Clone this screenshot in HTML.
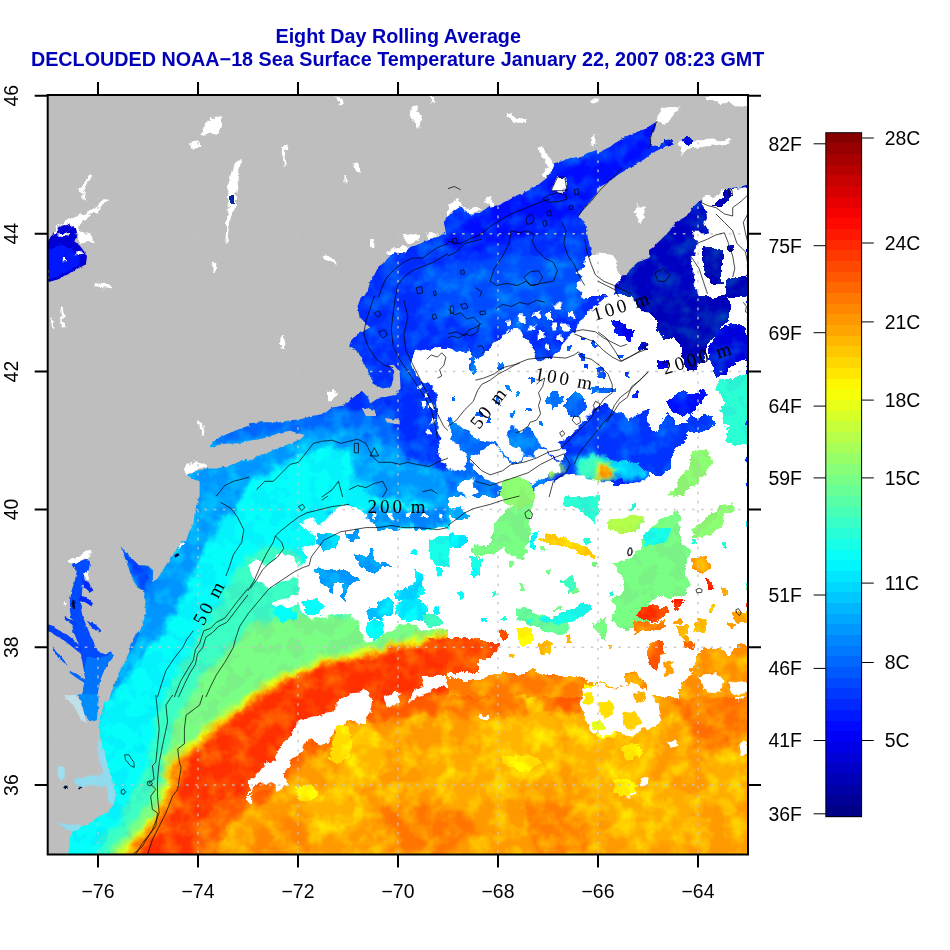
<!DOCTYPE html>
<html lang="en"><head><meta charset="utf-8"><title>Eight Day Rolling Average - DECLOUDED NOAA-18 Sea Surface Temperature</title>
<style>html,body{margin:0;padding:0;background:#fff;}body{width:950px;height:950px;overflow:hidden;font-family:"Liberation Sans",sans-serif;}svg{display:block;position:absolute;left:0;top:0;}.t{font-family:"Liberation Sans",sans-serif;font-weight:bold;font-size:19.75px;fill:#0000b8;text-anchor:middle;}.l{font-family:"Liberation Sans",sans-serif;font-size:19.4px;fill:#000;}.c{font-family:"Liberation Serif",serif;font-size:19px;letter-spacing:3px;word-spacing:-2px;fill:#000;text-anchor:middle;}</style></head><body>
<svg width="950" height="950" viewBox="0 0 950 950">
<rect width="950" height="950" fill="#fff"/>
<defs><clipPath id="pc"><rect x="47.7" y="95.0" width="700.3" height="759.5"/></clipPath>
</defs>
<g clip-path="url(#pc)">
<rect x="40" y="90" width="720" height="780" fill="#bebebe"/>
<defs><filter id="b3" x="-5%" y="-5%" width="110%" height="110%" color-interpolation-filters="sRGB"><feGaussianBlur stdDeviation="2.6" result="b"/><feTurbulence type="fractalNoise" baseFrequency="0.07" numOctaves="3" seed="7"/><feColorMatrix type="matrix" values="1 0 0 0 0 0 1 0 0 0 0 0 1 0 0 0 0 0 0 1" result="n"/><feDisplacementMap in="b" in2="n" scale="14" xChannelSelector="R" yChannelSelector="G"/><feColorMatrix type="matrix" values="1 0 0 0 0 0 1 0 0 -0.05 0 0 1 0 0 0 0 0 1 0" result="d"/><feTurbulence type="fractalNoise" baseFrequency="0.055" numOctaves="3" seed="11"/><feColorMatrix type="matrix" values="0 0 0 0 0 0 0.55 0 0 -0.225 0 0 0 0 0 0 0 0 0 1" result="g"/><feComposite in="d" in2="g" operator="arithmetic" k1="0" k2="1" k3="1" k4="0"/></filter><filter id="dc" x="-5%" y="-5%" width="110%" height="110%"><feTurbulence type="fractalNoise" baseFrequency="0.11" numOctaves="3" seed="3"/><feColorMatrix type="matrix" values="1 0 0 0 0 0 1 0 0 0 0 0 1 0 0 0 0 0 0 1" result="n"/><feDisplacementMap in="SourceGraphic" in2="n" scale="9" xChannelSelector="R" yChannelSelector="G"/></filter><filter id="dp" x="-5%" y="-5%" width="110%" height="110%" color-interpolation-filters="sRGB"><feTurbulence type="fractalNoise" baseFrequency="0.11" numOctaves="3" seed="3"/><feColorMatrix type="matrix" values="1 0 0 0 0 0 1 0 0 0 0 0 1 0 0 0 0 0 0 1" result="n"/><feDisplacementMap in="SourceGraphic" in2="n" scale="9" xChannelSelector="R" yChannelSelector="G"/><feColorMatrix type="matrix" values="1 0 0 0 0 0 1 0 0 -0.05 0 0 1 0 0 0 0 0 1 0" result="d"/><feTurbulence type="fractalNoise" baseFrequency="0.055" numOctaves="3" seed="11"/><feColorMatrix type="matrix" values="0 0 0 0 0 0 0.55 0 0 -0.225 0 0 0 0 0 0 0 0 0 1" result="g"/><feComposite in="g" in2="d" operator="in" result="gm"/><feComposite in="d" in2="gm" operator="arithmetic" k1="0" k2="1" k3="1" k4="0"/></filter><filter id="dl" x="-5%" y="-5%" width="110%" height="110%"><feTurbulence type="fractalNoise" baseFrequency="0.2" numOctaves="2" seed="5"/><feColorMatrix type="matrix" values="1 0 0 0 0 0 1 0 0 0 0 0 1 0 0 0 0 0 0 1" result="n"/><feDisplacementMap in="SourceGraphic" in2="n" scale="3" xChannelSelector="R" yChannelSelector="G"/></filter></defs>
<g filter="url(#b3)">
<rect x="20" y="60" width="760" height="830" fill="#0038ff"/>
<path fill="#0000c2" d="M612 285L640 250L670 225L700 200L760 170L760 375L700 380L685 365L665 335L640 320L625 300Z"/>
<path fill="#0019ff" d="M440 240L500 200L560 170L620 140L660 110L670 130L600 190L560 225L520 240L470 250Z"/>
<path fill="#0057ff" d="M430 270L520 255L580 262L590 300L540 330L470 330L420 300Z"/>
<path fill="#0073ff" d="M180 400L250 418L300 414L345 408L370 412L395 420L400 450L400 470L430 480L470 500L520 520L760 520L760 870L140 870L140 720L40 720L40 480Z"/>
<path fill="#00a2ff" d="M190 440L250 440L300 430L340 430L375 440L398 452L420 462L445 472L470 490L520 505L760 520L760 870L140 870L140 720L40 720L40 480Z"/>
<path fill="#04fffb" d="M236 505L250 484L276 470L300 455L330 446L350 455L354 480L372 496L410 503L450 513L500 520L760 520L760 870L40 870L40 730L90 725L100 712L114 692L138 662L163 632L181 602L194 572L208 545L222 520Z"/>
<path fill="#3bffc4" d="M240 565L265 545L300 555L330 590L400 590L760 590L760 870L88 870L95 852L118 822L146 768L160 702L190 652L215 607.5Z"/>
<path fill="#7aff85" d="M248 627L290 613L340 617L400 611L450 596L760 590L760 870L102 870L108 852L132 824L158 784L175 722L205 672Z"/>
<path fill="#c8ff37" d="M113 870L117 851L129 838L143 827L153 815L161 799L163 785L163 770L170 756L182 749L192 740L203 728L213 721.5L224 713.5L234 705.5L246 697L267 682L288 671L309 662L330 656L351 652L372 648L393 643L414 637L435 630.5L448 628.5L480 630L520 634L560 630L600 619L640 602L680 594L760 589L760 870Z"/>
<path fill="#ffd500" d="M125 870L126 852L134 841L145 830L155 818L164 800L166 785L166 771L172 758L184 752L194 743L205 731L215 724.5L226 716.5L236 711L247 700L268 685L289 674L310 665L331 659L352 655L373 651L394 646L415 640L436 633.5L448 631.5L480 633L520 637L560 633L600 622L640 605L680 597L760 592L760 870Z"/>
<path fill="#ff7b00" d="M128 870L129 853L137 844L148 833L158 822L168 802L170 786L170 772L176 761L187 755L197 747L208 734L218 728.5L229 720.5L239 714L249 704L270 689L291 678L312 669L333 663L354 659L375 655L396 650L417 644L438 637.5L448 635.5L480 637L520 641L560 637L600 626L640 609L680 601L760 596L760 870Z"/>
<path fill="#ff3c00" d="M136 870L140 853L150 840L165 825L176 808L181 790L182 776L186 765L195 757L203 749L212 738.5L220 729.5L230 721.5L239 715L249 705L270 690L291 679L312 670L333 664L354 660L375 656L396 651L417 645L438 638.5L448 636.5L480 638L520 642L560 638L600 627L640 610L680 602L760 597L760 870Z"/>
<path fill="#ff6700" d="M185 870L200 823L215 802L248 793L269 775L290 754L311 737L332 725L353 720L374 706L395 701L416 695L448 690L490 690L575 690L600 680L650 670L760 660L760 870Z"/>
<path fill="#ffa600" d="M215 870L225 830L245 812L270 795L290 775L311 757L332 745L353 738L374 726L395 721L416 715L448 712L490 712L575 712L600 700L650 690L760 680L760 870Z"/>
<path fill="#ffbd00" d="M300 800L340 790L370 805L360 830L320 835Z"/>
<path fill="#ffc100" d="M480 700L530 690L560 720L555 760L520 790L480 770Z"/>
<path fill="#ffbd00" d="M560 720L620 700L660 720L650 780L600 800L570 770Z"/>
<path fill="#ffc100" d="M330 730L370 720L390 750L370 790L340 780Z"/>
<path fill="#ffb900" d="M600 790L660 780L700 800L690 840L640 850L610 830Z"/>
<path fill="#ffb500" d="M420 760L470 750L500 780L480 810L430 800Z"/>
<path fill="#ff8200" d="M380 810L450 800L480 830L440 855L390 850Z"/>
<path fill="#ff8a00" d="M520 800L580 810L590 850L540 860Z"/>
<path fill="#ff7b00" d="M670 700L748 690L748 740L700 750Z"/>
<path fill="#ff9200" d="M260 820L300 815L310 855L250 860Z"/>
<path fill="#ffb900" d="M700 760L748 750L748 800L710 810Z"/>
<path fill="#ff8200" d="M450 700L520 695L530 715L460 720Z"/>
<path fill="#0073ff" d="M448 413.9L542.7 413.9L546.9 443.4L542.7 497.1L448 497.1Z"/>
<path fill="#0040ff" d="M561.7 413.9L649.1 405.5L649.1 456L574.3 458.1Z"/>
<path fill="#00c9ff" d="M574.3 458.1L649.1 453.9L649.1 479.2L578.5 477.1Z"/>
<path fill="#3fffc0" d="M576.4 462.3L591.2 457.1L608 460.2L616.4 470.7L612.2 480.2L595.4 480.2L582.7 476Z"/>
<path fill="#efff10" d="M595.4 464.4L612.2 464.4L613.3 478.1L596.4 478.1Z"/>
<path fill="#ff8600" d="M600 466.9L609.7 466.9L609.7 476.6L600 476.6Z"/>
<path fill="#a1ff5e" d="M504.8 481.3L523.8 479.2L528 497.1L502.7 497.1ZM546.9 464.4L559.6 462.3L561.7 474.9L549.1 477.1Z"/>
<path fill="#0000ba" d="M633.3 296L649.1 296L649.1 310.7L637.5 308.6Z"/>
<path fill="#0048ff" d="M118.7 543.4L128.8 553.5L135.6 560.2L147.4 563.6L155.8 570.3L152.4 582.1L144 592.2L137.3 590.5L130.5 577.1L123.8 560.2Z"/>
<path fill="#008eff" d="M155.8 570.3L165.9 573.7L159.2 590.5L149.1 604L144 592.2L152.4 582.1ZM328 510.7L449.1 508.6L449.1 525.5L336.4 527.6Z"/>
</g>
<g filter="url(#dl)">
<path fill="#bebebe" d="M246.9 294.9L361.7 294.9L357.5 306.5L359.6 317.1L365.9 323.4L370.1 327.6L357.5 333.9L351.2 340.2L349.1 346.5L357.5 350.7L361.7 359.2L365.9 367.6L370.1 376L374.3 384.4L382.7 388.6L391.2 386.5L393.3 380.2L393.3 369.7L389.1 365.5L393.3 364.4L399.6 371.8L400.6 388.6L395.4 394.9L384.8 397.1L376.4 399.2L370.1 403.4L368 397.1L361.7 390.7L351.2 399.2L342.7 405.5L332.2 407.6L323.8 413.9L311.2 416L300.6 419.2L290.1 420.2L279.6 422.3L269.1 422.3L258.5 422.3L246.9 423.4ZM246.9 441.3L258.5 439.2L269.1 437.1L279.6 432.8L290.1 430.7L296.4 432.8L304.8 434.9L300.6 439.2L290.1 443.4L279.6 447.6L269.1 451.8L258.5 456L246.9 461.3ZM361.7 407.6L374.3 409.7L376.4 416L365.9 416ZM384.8 418.1L399.6 420.2L399.6 424.4L386.9 422.3ZM246.9 94.9L449.1 94.9L449.1 216L448 216L443.8 222.3L445.9 232.8L437.5 237.1L429.1 239.2L420.6 243.4L410.1 247.6L403.8 251.8L395.4 251.8L389.1 256L384.8 262.3L378.5 266.5L374.3 274.9L370.1 281.3L368 289.7L363.8 297.1L246.9 297.1ZM446.9 94.9L649.1 94.9L649.1 127.6L637.5 131.8L626.9 136L616.4 142.3L608 146.5L597.5 149.7L589.1 152.8L578.5 157.1L570.1 158.1L561.7 161.3L553.3 163.4L551.2 169.7L546.9 178.1L538.5 184.4L528 190.7L517.5 194.9L506.9 201.3L498.5 205.5L490.1 205.5L481.7 211.8L471.2 213.9L460.6 205.5L454.3 209.7L446.9 218.1ZM649.1 258.1L637.5 262.3L626.9 272.8L620.6 279.2L612.2 274.9L599.6 264.4L592.2 256L589.1 243.4L586.9 232.8L584.8 222.3L578.5 216L586.9 205.5L595.4 194.9L605.9 186.5L616.4 178.1L626.9 169.7L637.5 163.4L649.1 157.1ZM46.9 294.9L249.1 294.9L249.1 425.5L237.5 429.7L226.9 433.9L216.4 439.2L210.1 445.5L210.1 447.6L216.4 445.5L226.9 443.4L237.5 443.4L249.1 441.3L249.1 458.1L237.5 462.3L226.9 466.5L216.4 468.6L205.9 468.6L195.4 470.7L186.9 474.9L193.3 479.2L199.6 481.3L199.6 497.1L46.9 497.1ZM46.9 494.9L199.6 494.9L195.4 508.6L193.3 523.4L189.1 531.8L185.9 541.3L46.9 541.3ZM47.2 539.2L182.7 539.2L176 550.1L169.3 560.2L162.5 570.3L157.5 578.7L152.4 582.1L153.3 570.3L147.4 565.3L138.9 565.3L132.2 558.5L127.2 553.5L120.4 545.9L123.8 555.2L127.2 563.6L130.5 573.7L133.9 582.1L138.9 588.8L144 590.5L144.8 598.9L145.7 610.7L144 619.2L140.6 629.3L135.6 641.1L130.5 649.5L127.2 656.2L123.8 664.6L118.7 673.1L115.4 681.5L112 689.9L108.6 700.8L47.2 700.8ZM47.2 694.2L105.3 694.2L103.6 705.1L98.5 723.6L100.2 737.1L103.6 748.9L106.9 762.4L110.3 774.2L113.7 785.9L115.4 796.1L113.7 804.5L106.9 812.9L98.5 816.3L90.1 823L81.7 826.4L73.3 829.7L69.9 838.2L68.2 855.8L47.2 855.8ZM46.9 94.9L249.1 94.9L249.1 297.1L46.9 297.1ZM596.9 94.9L747.9 94.9L747.9 184.4L741.2 186.5L728.5 188.6L724.3 194.9L715.9 199.2L707.5 203.4L701.2 200.2L699.1 201.3L692.7 207.6L686.4 216L675.9 222.3L669.6 230.7L661.2 239.2L652.7 247.6L640.1 256L629.6 264.4L619.1 274.9L614.8 268.6L608.5 260.2L598 251.8L596.9 251.8L596.9 188.6L608.5 182.3L619.1 173.9L633.8 165.5L644.3 159.2L652.7 152.8L661.2 148.6L669.6 146.5L672.7 143.4L669.6 139.2L663.3 141.3L659.1 146.5L650.6 144.4L650.6 138.1L654.8 129.7L656.9 121.3L650.6 125.5L640.1 129.7L631.7 133.9L621.2 138.1L610.6 146.5L598 152.8L596.9 152.8Z"/>
</g>
<g filter="url(#dl)">
<path fill="#004cff" d="M71.6 563.6L78.3 561.9L86.7 558.5L90.1 561.9L88.4 572L85.1 578.7L82.5 587.2L81.7 597.3L80.8 607.4L82.5 615.8L85.9 624.2L90.1 634.3L94.3 644.4L98.5 651.2L105.3 654.5L112 651.2L113.7 656.2L108.6 662.9L103.6 671.4L100.2 679.8L98.5 688.2L96.8 700.8L81.7 700.8L83.4 688.2L85.1 678.1L83.4 668L81.7 657.9L80 647.8L76.6 639.4L73.3 630.9L71.6 620.8L69.9 610.7L69.9 600.6L71.6 590.5L74.9 580.4L76.6 572Z"/>
<path fill="#0073ff" d="M86.7 657.9L98.5 657.9L105.3 656.2L112 652L113.7 656.2L108.6 662.9L103.6 671.4L100.2 679.8L98.5 688.2L96.8 700.8L81.7 700.8L83.4 688.2L85.1 678.1L84.2 668Z"/>
<path fill="#0040ff" d="M48 624.2L53.1 625.9L58.1 630.9L66.5 634.3L73.3 639.4L81.7 647.8L81.7 654.5L73.3 647.8L64.8 641.1L56.4 636L48 630.9ZM64.8 615.8L69.9 619.2L76.6 624.2L78.3 627.6L71.6 624.2L64.8 619.2Z"/>
<path fill="#0054ff" d="M53.1 647.8L58.1 652.8L64.8 661.3L66.5 664.6L59.8 659.6L53.1 651.2Z"/>
<path fill="#0067ff" d="M69.9 669.7L78.3 674.7L85.1 679.8L85.1 683.2L76.6 678.1L69.9 673.1Z"/>
<path fill="#007bff" d="M128.8 647.8L135.6 634.3L138.9 630.9L139.8 634.3L135.6 642.7L130.5 652.8Z"/>
<path fill="#002cff" d="M81.7 578.7L88.4 582.1L93.5 590.5L90.1 592.2L84.2 587.2ZM79.2 595.6L86.7 597.3L93.5 604L91.8 606.5L85.1 602.3L78.3 600.6Z"/>
<path fill="#0040ff" d="M86.7 620.8L95.2 624.2L101.9 630.9L98.5 632.6L91.8 627.6Z"/>
<path fill="#000030" d="M72.4 600.6L74.6 600.6L74.9 609.1L72.8 609.1Z"/>
<path fill="#000040" d="M174.3 555.2L178.5 552.6L179.4 555.2L175.2 557.7Z"/>
<path fill="#008eff" d="M78.3 694.2L98.5 694.2L98.5 705.1L96.8 720.3L90.1 721.9L85.1 715.2L81.7 705.1Z"/>
<path fill="#bfe0e8" d="M64.8 695L76.6 695L80 701.7L83.4 711.8L86.7 723.6L81.7 720.3L73.3 705.1L64.8 698.4Z"/>
<path fill="#8fdcf0" d="M73.3 779.2L90.1 775.8L103.6 774.2L110.3 782.6L103.6 787.6L90.1 785.9L78.3 787.6ZM98.5 737.1L103.6 748.9L106.9 762.4L110.3 774.2L113.7 785.9L115.4 796.1L113.7 804.5L108.6 802.8L106.9 789.3L103.6 775.8L100.2 762.4L96.8 748.9ZM58.1 823L69.9 824.7L81.7 824.7L78.3 829.7L71.6 831.4L64.8 828.1Z"/>
<path fill="#9fe0f0" d="M58.1 765.7L64.8 767.4L64.8 774.2L61.5 782.6L58.1 775.8Z"/>
<path fill="#001030" d="M64 785.9L68.2 785.1L69.1 788.5L64.8 789.3ZM78.3 786.8L80.8 786.8L80.8 789.3L78.3 789.3Z"/>
<path fill="#0000d5" d="M48 241.3L52.2 233.9L57.5 230.7L60.6 225.5L69.1 223.4L76.4 227.6L77.5 234.9L74.3 241.3L79.6 245.5L83.8 250.7L86.9 257.1L85.9 264.4L81.7 266.5L73.3 270.7L66.9 274.9L58.5 279.2L48 282.3Z"/>
<path fill="#0019ff" d="M48 249.7L60.6 244.4L71.2 248.6L79.6 257.1L79.6 264.4L69.1 270.7L56.4 277.1L48 279.6Z"/>
</g>
<g filter="url(#dc)">
<path fill="#ffffff" d="M414.3 352.8L422.7 348.6L431.2 351.8L439.6 348.6L449.1 350.7L449.1 443.4L441.7 443.4L437.5 430.7L438.5 413.9L436.4 397.1L433.3 386.5L426.9 384.4L422.7 380.2L416.4 373.9L412.2 363.4ZM437.5 441.3L449.1 439.2L449.1 464.4L439.6 462.3ZM416.2 384.2L420.8 384.2L420.8 388.8L416.2 388.8ZM424.6 392.6L429.3 392.6L429.3 397.3L424.6 397.3ZM420.4 401.1L425.1 401.1L425.1 405.7L420.4 405.7ZM428.8 405.3L433.5 405.3L433.5 409.9L428.8 409.9ZM430.9 420L435.6 420L435.6 424.6L430.9 424.6ZM426.7 430.5L431.4 430.5L431.4 435.2L426.7 435.2ZM281.7 336L284.8 336L283.8 348.6L280.6 350.7ZM328 392.8L336.4 390.7L332.2 401.3L328 401.3ZM300.6 523.4L311.2 517.1L321.7 525.5L336.4 508.6L346.9 504.4L357.5 508.6L365.9 517.1L378.5 523.4L395.4 527.6L416.4 527.6L433.3 529.7L449.1 527.6L449.1 630.7L437.5 628.6L429.1 630.7L416.4 626.5L403.8 622.3L395.4 626.5L386.9 632.8L374.3 641.3L365.9 643.4L361.7 630.7L357.5 620.2L349.1 616L336.4 613.9L328 618.1L319.6 616L311.2 618.1L302.7 613.9L298.5 605.5L290.1 607.6L275.4 605.5L273.3 601.3L281.7 599.2L296.4 597.1L300.6 586.5L296.4 578.1L283.8 580.2L273.3 586.5L262.7 584.4L252.2 576L248 565.5L254.3 559.2L266.9 565.5L275.4 557.1L281.7 550.7L294.3 559.2L302.7 565.5L306.9 559.2L300.6 550.7L311.2 544.4L317.5 538.1L309.1 531.8ZM248 781.3L256.4 774.9L260.6 766.5L273.3 760.2L281.7 745.5L290.1 739.2L296.4 724.4L306.9 718.1L317.5 716L332.2 713.9L338.5 703.4L342.7 694.9L353.3 692.8L365.9 688.6L372.2 699.2L370.1 711.8L365.9 722.3L357.5 724.4L346.9 720.2L342.7 728.6L332.2 730.7L328 741.3L319.6 745.5L311.2 739.2L302.7 745.5L296.4 758.1L288 764.4L283.8 774.9L288 787.6L279.6 789.7L269.1 781.3L260.6 783.4L252.2 787.6L248 793.9ZM384.8 697.1L395.4 692.8L403.8 694.9L395.4 703.4L386.9 707.6ZM410.1 697.1L416.4 688.6L424.8 684.4L420.6 676L449.1 676L448 688.6L437.5 686.5L429.1 692.8L416.4 697.1L408 703.4ZM248 793.9L252.2 793.9L252.2 802.3L248 802.3ZM283.2 146.5L286.9 145.5L285.5 157.1L286.9 167.6L284.2 165.5L282.7 157.1ZM412.2 105.5L416.4 104.4L418.5 112.8L421.7 117.1L420.6 127.6L415.4 127.6L414.3 119.2L409.1 113.9ZM336.4 96L340.6 97.1L341.7 105.5L338.5 104.4ZM353.3 163.4L358.5 162.3L359.6 173.9L355.8 172.8ZM344.4 177.1L346.9 177.1L346.5 182.3L344.4 182.3ZM324.8 256L330.1 254.9L336.4 260.2L336.4 265.5L331.2 262.3L325.9 259.2ZM368.4 239.2L374.3 239.2L374.3 245.9L371.2 245.9ZM430.7 96L433.7 96L434.3 103.4L431.6 104.4ZM385.9 252.8L393.3 246.5L401.7 245.9L408 248.6L403.8 252.2L395.4 251.8L389.1 257.1ZM403.8 236L414.3 232.8L420.6 234.9L416.4 242.3L408 243.4ZM426.9 234.9L435.4 232.8L437.5 237.1L429.1 239.2ZM448 348.6L458.5 352.8L469.1 348.6L471.2 357.1L479.6 359.2L485.9 350.7L496.4 342.3L502.7 336L509.1 331.8L517.5 327.6L521.7 338.1L528 340.2L532.2 350.7L538.5 359.2L546.9 359.2L557.5 352.8L561.7 344.4L565.9 338.1L574.3 331.8L578.5 323.4L584.8 317.1L591.2 308.6L599.6 302.3L608 296L633.3 296L637.5 308.6L649.1 310.7L649.1 409.7L637.5 413.9L629.1 420.2L622.7 413.9L612.2 409.7L603.8 403.4L595.4 407.6L591.2 413.9L582.7 422.3L574.3 430.7L565.9 439.2L557.5 443.4L565.9 451.8L561.7 460.2L553.3 456L546.9 447.6L538.5 443.4L532.2 432.8L528 426.5L519.6 430.7L511.2 426.5L506.9 432.8L509.1 443.4L517.5 447.6L523.8 456L517.5 462.3L509.1 460.2L502.7 451.8L496.4 443.4L488 439.2L477.5 439.2L469.1 432.8L460.6 426.5L454.3 420.2L448 416ZM448 441.3L458.5 443.4L466.9 451.8L469.1 462.3L462.7 470.7L454.3 470.7L448 466.5ZM471.2 456L481.7 451.8L490.1 443.4L498.5 447.6L502.7 456L511.2 464.4L517.5 464.4L523.8 458.1L532.2 456L540.6 447.6L546.9 449.7L553.3 458.1L561.7 462.3L557.5 470.7L546.9 477.1L536.4 481.3L525.9 485.5L517.5 479.2L509.1 481.3L500.6 485.5L490.1 481.3L479.6 477.1L473.3 468.6ZM565.9 474.9L582.7 477.1L595.4 481.3L612.2 481.3L622.7 485.5L649.1 479.2L649.1 497.1L532.2 497.1L536.4 485.5L553.3 481.3ZM610.1 432.8L626.9 430.7L631.2 443.4L626.9 456L614.3 456L608 443.4ZM460.6 481.3L473.3 479.2L477.5 489.7L469.1 497.1L458.5 491.8ZM534.5 310.9L540.4 310.9L540.4 316.8L534.5 316.8ZM505.1 319.4L510.9 319.4L510.9 325.3L505.1 325.3ZM538.7 332L544.6 332L544.6 337.9L538.7 337.9ZM551.4 322.5L557.3 322.5L557.3 328.4L551.4 328.4ZM556.6 336.2L562.5 336.2L562.5 342.1L556.6 342.1ZM545.1 344.6L550.9 344.6L550.9 350.5L545.1 350.5ZM568.2 310.9L574.1 310.9L574.1 316.8L568.2 316.8ZM518.7 316.2L524.6 316.2L524.6 322.1L518.7 322.1ZM529.3 324.6L535.2 324.6L535.2 330.5L529.3 330.5ZM546.1 314.1L552 314.1L552 320L546.1 320ZM562.9 324.6L568.8 324.6L568.8 330.5L562.9 330.5ZM554.5 303.6L560.4 303.6L560.4 309.5L554.5 309.5ZM448 496L649.1 496L649.1 697.1L448 697.1ZM582.7 694.9L595.4 690.7L603.8 699.2L599.6 713.9L603.8 726.5L595.4 734.9L589.1 726.5L584.8 713.9ZM448 676L490.1 676L485.9 686.5L473.3 684.4L460.6 682.3L448 684.4ZM629.1 676L649.1 676L649.1 718.1L641.7 722.3L637.5 709.7L633.3 697.1ZM622.7 789.7L633.3 787.6L637.5 796L626.9 798.1ZM479.6 713.9L488 713.9L488 720.2L479.6 720.2ZM551.2 190.7L557.5 177.1L564.8 177.1L566.9 190.7ZM584.8 260.2L593.3 253.9L599.6 252.8L605.9 258.1L612.2 264.4L618.5 271.8L620.6 279.2L614.3 285.5L616.4 297.1L582.7 297.1L578.5 285.5L582.7 277.1L576.4 270.7L582.7 266.5ZM448 205.5L456.4 199.2L460.6 205.5L469.1 209.7L475.4 205.5L481.7 210.7L471.2 214.9L460.6 206.5L454.3 210.7L448 218.1ZM506.9 114.9L511.2 112.8L517.5 119.2L525.9 119.2L524.8 123.4L515.4 122.3ZM483.8 199.2L490.1 197.1L496.4 205.5L490.1 206.5ZM538.5 148.6L542.7 147.6L553.3 163.4L551.2 169.7L546.9 178.1L542.7 173.9L546.9 165.5L542.7 159.2ZM589.1 138.1L595.4 136L595.4 144.4L591.2 146.5ZM591.2 100.2L599.6 97.1L598.5 101.3L593.3 104.4ZM59.6 306.5L62.7 306.5L64.4 327.6L62.3 327.6ZM50.1 319.2L53.3 319.2L53.3 329.7L50.5 329.7ZM198.5 420.2L201.3 420.2L204.2 437.1L201.7 437.1ZM184.8 464.4L195.4 462.3L208 464.4L208 468.6L195.4 470.7L186.9 474.9ZM68.2 560.2L78.3 556.8L88.4 550.1L91.8 551.8L86.7 558.5L78.3 561.9L71.6 563.6ZM84.2 572.8L88.4 570.3L90.1 578.7L85.9 579.6ZM177.7 545.1L182.7 540L185.3 541.7L179.4 550.1ZM63.2 602.3L65.7 602.3L65.7 605.7L63.2 605.7ZM210.1 117.1L222.7 116.4L218.9 134.3L210.1 132.2L202.7 136L199.2 133.9L204.8 126.5ZM190.1 144L200 142.3L200 146.9L191.2 147.4ZM237.1 160.8L242.7 160.2L239.2 169.7L238.5 180.2L236 192.8L236 205.5L231.6 219.2L228.6 230.7L227.4 243.4L225.3 241.3L226.9 222.3L227.6 205.5L228.6 188.6L230.7 176L233.3 165.5ZM213.7 264.4L216.4 263.4L215.8 270.7L212.8 271.2ZM94.3 284L111.2 286.5L110.7 289.3L94.7 287.2ZM52.2 232.8L60.6 224.4L69.1 220.2L77.5 216L90.1 210.7L104.8 200.2L109.1 199.2L108 203.4L98.5 209.7L90.1 214.9L81.7 220.2L77.5 230.7L92.2 234.9L93.3 241.3L81.7 243.4L77.5 234.9L75.4 228.6L69.1 224L60.6 226.1L57.5 230.7L54.3 234.9ZM78.5 188.6L90.1 174.9L91.2 177.1L81.7 190.7L84.8 194.9L85.9 200.2L83.8 200.2L82.7 193.9ZM58.5 232.8L69.1 233.9L69.1 237.5L58.5 236.6ZM62.7 258.1L66.9 258.1L66.9 262.3L62.7 262.3ZM76.4 250.7L82.7 249.7L82.7 253.9L76.4 254.3ZM647.9 296L747.9 296L747.9 497.1L647.9 497.1ZM647.9 496L747.9 496L747.9 697.1L647.9 697.1ZM629.6 688.6L640.1 686.5L652.7 697.1L661.2 707.6L659.1 724.4L646.4 730.7L640.1 718.1L631.7 707.6ZM602.2 697.1L610.6 692.8L614.8 703.4L608.5 709.7ZM699.1 684.4L711.7 682.3L715.9 690.7L703.3 694.9ZM724.3 688.6L747.9 684.4L747.9 697.1L734.8 699.2ZM602.2 726.5L608.5 726.5L608.5 734.9L602.2 734.9ZM705.4 94.9L747.9 94.9L747.9 106.5L734.8 106.5L728.5 102.3L715.9 102.3L707.5 100.2ZM680.1 141.3L728.5 138.7L728.5 143.4L690.6 148.6L682.2 154.9L679.1 148.6ZM703.3 197.1L715.9 194.9L724.3 190.7L747.9 186.5L747.9 232.8L707.5 232.8L703.3 222.3L707.5 213.9ZM596.9 251.8L604.3 251.8L610.6 256L616.9 264.4L619.1 274.9L612.7 281.3L598 285.5ZM635.9 205.5L644.3 205.5L646.4 216L640.1 222.3L635.9 216ZM692.7 232.8L747.9 232.8L747.9 297.1L699.1 297.1L694.8 281.3L690.6 268.6L692.7 256L696.9 243.4ZM659.1 108.6L667.5 106.5L682.2 105.5L678 110.7L671.7 117.1L667.5 123.4L661.2 125.5L656.9 121.3ZM340.6 514.9L344.8 514.9L344.8 519.2L340.6 519.2ZM355.4 512.8L359.6 512.8L359.6 517.1L355.4 517.1ZM372.2 513.9L376.4 513.9L376.4 518.1L372.2 518.1ZM389.1 514.9L393.3 514.9L393.3 519.2L389.1 519.2ZM405.9 512.8L410.1 512.8L410.1 517.1L405.9 517.1ZM422.7 513.9L426.9 513.9L426.9 518.1L422.7 518.1ZM439.6 514.9L443.8 514.9L443.8 519.2L439.6 519.2Z"/>
</g>
<g filter="url(#dp)" shape-rendering="crispEdges">
<path fill="#00a2ff" d="M315.4 569.7L332.2 567.6L349.1 571.8L357.5 578.1L361.7 582.3L353.3 582.3L349.1 588.6L344.8 601.3L340.6 597.1L342.7 584.4L334.3 584.4L332.2 594.9L328 588.6L319.6 580.2ZM351.2 554.9L365.9 557.1L372.2 546.5L374.3 559.2L382.7 563.4L391.2 565.5L378.5 569.7L374.3 573.9L365.9 571.8L359.6 563.4ZM344.8 531.8L357.5 529.7L359.6 540.2L349.1 542.3Z"/>
<path fill="#00c9ff" d="M365.9 609.7L378.5 605.5L386.9 597.1L395.4 601.3L393.3 611.8L382.7 618.1L370.1 618.1Z"/>
<path fill="#00dcff" d="M391.2 592.8L408 588.6L416.4 580.2L414.3 569.7L424.8 576L422.7 590.7L416.4 597.1L408 601.3L395.4 599.2Z"/>
<path fill="#04fffb" d="M273.3 605.5L290.1 607.6L298.5 613.9L294.3 620.2L281.7 622.3L275.4 616ZM300.6 601.3L317.5 599.2L325.9 605.5L319.6 613.9L306.9 613.9Z"/>
<path fill="#ff4400" d="M449.1 662.3L437.5 664.4L429.1 656L429.1 639.2L437.5 641.3L449.1 638.1Z"/>
<path fill="#ffe800" d="M336.4 726.5L346.9 724.4L353.3 739.2L349.1 756L338.5 764.4L328 760.2L332.2 745.5ZM296.4 787.6L311.2 785.5L319.6 793.9L311.2 802.3L298.5 800.2Z"/>
<path fill="#007bff" d="M551.2 391.8L557.5 391.8L557.5 397.1L562.7 397.1L562.7 402.3L557.5 402.3L557.5 407.6L551.2 407.6L551.2 402.3L545.9 402.3L545.9 397.1L551.2 397.1Z"/>
<path fill="#0067ff" d="M565.9 401.3L574.3 392.8L582.7 394.9L586.9 405.5L582.7 413.9L574.3 418.1L568 413.9L564.8 407.6Z"/>
<path fill="#0040ff" d="M596.4 367.6L603.8 366.5L603.8 377.1L597.5 377.1Z"/>
<path fill="#0000f1" d="M612.2 323.4L620.6 319.2L626.9 327.6L633.3 331.8L631.2 340.2L622.7 338.1L616.4 331.8Z"/>
<path fill="#0000ca" d="M638.5 343.4L648 342.3L648 348.6L639.6 348.6Z"/>
<path fill="#0019ff" d="M633.3 390.7L639.6 390.7L639.6 397.1L633.3 397.1Z"/>
<path fill="#0067ff" d="M469.1 359.2L475.4 357.1L477.5 369.7L471.2 373.9Z"/>
<path fill="#002cff" d="M612.2 479.2L622.7 478.1L623.8 485.5L613.3 486.5Z"/>
<path fill="#0040ff" d="M578.5 352.8L582.7 352.8L582.7 359.2L578.5 359.2Z"/>
<path fill="#0067ff" d="M591.2 386.5L616.4 386.5L616.4 392.8L591.2 392.8ZM505.5 385.1L510.5 385.1L510.5 390.1L505.5 390.1ZM449.7 395.6L454.7 395.6L454.7 400.6L449.7 400.6ZM514.9 392.4L520 392.4L520 397.5L514.9 397.5ZM493.9 398.7L498.9 398.7L498.9 403.8L493.9 403.8ZM525.5 407.2L530.5 407.2L530.5 412.2L525.5 412.2ZM508.6 411.4L513.7 411.4L513.7 416.4L508.6 416.4ZM538.1 419.8L543.2 419.8L543.2 424.8L538.1 424.8ZM477.1 411.4L482.1 411.4L482.1 416.4L477.1 416.4ZM487.6 417.7L492.6 417.7L492.6 422.7L487.6 422.7ZM498.1 362.9L503.2 362.9L503.2 368L498.1 368ZM529.7 377.7L534.7 377.7L534.7 382.7L529.7 382.7Z"/>
<path fill="#0040ff" d="M580.4 335.8L585.1 335.8L585.1 340.4L580.4 340.4ZM567.8 346.3L572.4 346.3L572.4 350.9L567.8 350.9ZM593.1 340L597.7 340L597.7 344.6L593.1 344.6ZM584.6 363.2L589.3 363.2L589.3 367.8L584.6 367.8ZM624.6 371.6L629.3 371.6L629.3 376.2L624.6 376.2ZM618.3 354.7L622.9 354.7L622.9 359.4L618.3 359.4Z"/>
<path fill="#00b5ff" d="M448 506.5L460.6 508.6L469.1 517.1L460.6 519.2L448 517.1Z"/>
<path fill="#00f0ff" d="M448 533.9L464.8 533.9L469.1 542.3L458.5 548.6L448 548.6Z"/>
<path fill="#7aff85" d="M485.9 548.6L490.1 538.1L498.5 517.1L506.9 508.6L519.6 502.3L532.2 502.3L532.2 517.1L528 538.1L525.9 559.2L511.2 557.1L502.7 548.6L490.1 554.9L475.4 557.1L471.2 546.5L479.6 544.4Z"/>
<path fill="#18ffe7" d="M469.1 557.1L481.7 559.2L479.6 576L473.3 578.1Z"/>
<path fill="#2bffd4" d="M563.8 496L599.6 496L599.6 504.4L595.4 523.4L586.9 517.1L574.3 506.5L565.9 508.6Z"/>
<path fill="#a1ff5e" d="M605.9 523.4L616.4 519.2L629.1 521.3L641.7 514.9L643.8 523.4L633.3 531.8L620.6 531.8L608 529.7Z"/>
<path fill="#ffd500" d="M538.5 538.1L553.3 533.9L565.9 538.1L578.5 544.4L593.3 550.7L593.3 557.1L578.5 554.9L565.9 546.5L549.1 544.4Z"/>
<path fill="#04fffb" d="M530.1 531.8L538.5 531.8L534.3 546.5L529.1 546.5Z"/>
<path fill="#66ff99" d="M515.4 609.7L528 607.6L538.5 613.9L549.1 618.1L561.7 616L570.1 626.5L565.9 634.9L549.1 632.8L536.4 626.5L523.8 622.3L517.5 622.3Z"/>
<path fill="#18ffe7" d="M538.5 616L553.3 618.1L565.9 613.9L578.5 605.5L586.9 601.3L593.3 609.7L582.7 616L570.1 622.3L557.5 624.4L544.8 622.3Z"/>
<path fill="#fffc00" d="M517.5 628.6L532.2 626.5L534.3 639.2L528 645.5L519.6 643.4Z"/>
<path fill="#7aff85" d="M612.2 565.5L622.7 559.2L637.5 554.9L649.1 557.1L649.1 630.7L637.5 630.7L629.1 626.5L616.4 626.5L610.1 618.1L616.4 609.7L612.2 601.3L620.6 592.8L629.1 586.5L622.7 576Z"/>
<path fill="#3fffc0" d="M561.7 580.2L574.3 576L576.4 586.5L570.1 594.9L563.8 588.6Z"/>
<path fill="#7aff85" d="M591.2 622.3L605.9 624.4L605.9 639.2L599.6 634.9Z"/>
<path fill="#ff4c00" d="M446.9 639.2L460.6 637.5L471.2 638.1L485.9 641.3L500.6 643.4L498.5 651.8L490.1 658.1L479.6 658.1L475.4 664.4L479.6 670.7L469.1 673.9L458.5 670.7L448 674.9L446.9 674.9Z"/>
<path fill="#ff8600" d="M490.1 677.1L502.7 672.8L519.6 674.9L532.2 670.7L544.8 674.9L561.7 674.9L582.7 679.2L595.4 683.4L612.2 687.6L629.1 685.5L633.3 670.7L641.7 679.2L649.1 685.5L649.1 697.1L448 697.1L448 674.9L460.6 681.3L475.4 679.2Z"/>
<path fill="#ff4c00" d="M498.5 630.7L509.1 632.8L506.9 641.3L500.6 639.2Z"/>
<path fill="#ffc100" d="M538.5 643.4L553.3 643.4L551.2 653.9L540.6 653.9Z"/>
<path fill="#8dff72" d="M503.3 482.3L515.9 477.1L526.4 478.1L532.7 486.5L534.8 497.1L530.6 505.5L515.9 507.6L505.4 501.3L499.1 490.7Z"/>
<path fill="#fff000" d="M582.7 682.3L595.4 684.4L599.6 690.7L586.9 692.8ZM595.4 718.1L616.4 713.9L622.7 726.5L612.2 737.1L599.6 734.9ZM612.2 781.3L626.9 777.1L637.5 785.5L626.9 793.9L614.3 791.8ZM620.6 745.5L637.5 743.4L641.7 756L626.9 760.2Z"/>
<path fill="#ffe800" d="M500.6 756L532.2 753.9L542.7 764.4L528 770.7L506.9 768.6Z"/>
<path fill="#0000a3" d="M230.1 197.1L235.4 197.1L235.4 204.4L230.1 204.4Z"/>
<path fill="#0000ba" d="M635.9 296L728.5 296L732.7 308.6L726.4 323.4L715.9 331.8L707.5 344.4L703.3 359.2L696.9 367.6L688.5 369.7L682.2 359.2L680.1 344.4L671.7 338.1L661.2 336L656.9 321.3L646.4 308.6Z"/>
<path fill="#0000dd" d="M715.9 331.8L732.7 323.4L745.4 327.6L747.9 338.1L747.9 359.2L734.8 363.4L724.3 376L715.9 380.2L711.7 365.5L707.5 350.7Z"/>
<path fill="#0000f1" d="M612.7 323.4L623.3 325.5L629.6 331.8L629.6 338.1L621.2 338.1L614.8 331.8ZM656.9 359.2L667.5 361.3L667.5 369.7L659.1 369.7Z"/>
<path fill="#0040ff" d="M598 413.9L606.4 426.5L619.1 426.5L631.7 422.3L644.3 426.5L656.9 430.7L661.2 420.2L669.6 413.9L678 422.3L686.4 422.3L690.6 413.9L699.1 418.1L707.5 413.9L715.9 422.3L711.7 430.7L699.1 430.7L688.5 432.8L682.2 443.4L671.7 456L669.6 468.6L661.2 477.1L650.6 474.9L640.1 464.4L629.6 460.2L619.1 462.3L608.5 456L598 451.8Z"/>
<path fill="#0019ff" d="M665.4 401.3L682.2 390.7L690.6 394.9L703.3 388.6L707.5 397.1L696.9 405.5L694.8 413.9L682.2 416L669.6 409.7Z"/>
<path fill="#2bffd4" d="M720.1 380.2L747.9 373.9L747.9 443.4L734.8 445.5L724.3 441.3L728.5 430.7L724.3 418.1L720.1 409.7L724.3 401.3L715.9 388.6Z"/>
<path fill="#8dff72" d="M692.7 449.7L707.5 449.7L711.7 464.4L703.3 477.1L692.7 485.5L682.2 497.1L669.6 497.1L678 481.3L688.5 468.6Z"/>
<path fill="#ff9a00" d="M600.1 468.6L608.5 466.5L610.6 474.9L602.2 477.1Z"/>
<path fill="#7aff85" d="M623.3 559.2L640.1 550.7L642.2 533.9L652.7 525.5L667.5 514.9L675.9 508.6L682.2 521.3L678 531.8L682.2 544.4L690.6 548.6L688.5 563.4L686.4 576L690.6 586.5L682.2 594.9L671.7 599.2L659.1 594.9L650.6 603.4L635.9 613.9L631.7 626.5L621.2 630.7L614.8 622.3L619.1 609.7L625.4 597.1L621.2 584.4L623.3 569.7Z"/>
<path fill="#18ffe7" d="M642.2 533.9L652.7 527.6L667.5 527.6L669.6 538.1L656.9 544.4L644.3 546.5Z"/>
<path fill="#b4ff4b" d="M606.4 523.4L619.1 519.2L631.7 514.9L642.2 514.9L640.1 523.4L629.6 531.8L619.1 531.8L608.5 529.7Z"/>
<path fill="#8dff72" d="M690.6 529.7L703.3 521.3L711.7 512.8L724.3 504.4L732.7 502.3L734.8 508.6L724.3 517.1L720.1 527.6L711.7 533.9L703.3 538.1L692.7 538.1Z"/>
<path fill="#ff9a00" d="M690.6 557.1L707.5 557.1L709.6 567.6L701.2 573.9L692.7 567.6Z"/>
<path fill="#ff2500" d="M705.4 580.2L712.7 580.2L713.8 588.6L707.5 589.7Z"/>
<path fill="#ff3800" d="M640.1 607.6L652.7 605.5L665.4 607.6L667.5 613.9L656.9 620.2L644.3 620.2L635.9 616Z"/>
<path fill="#ff2500" d="M669.6 601.3L682.2 599.2L684.3 605.5L675.9 609.7Z"/>
<path fill="#ff8600" d="M633.8 620.2L652.7 622.3L665.4 620.2L667.5 626.5L652.7 630.7L640.1 630.7L633.8 634.9Z"/>
<path fill="#ff5f00" d="M646.4 647.6L659.1 639.2L665.4 647.6L663.3 664.4L656.9 672.8L648.5 664.4Z"/>
<path fill="#ffc100" d="M675.9 626.5L686.4 624.4L690.6 634.9L682.2 639.2ZM699.1 618.1L707.5 620.2L703.3 632.8L694.8 630.7Z"/>
<path fill="#ff7300" d="M682.2 641.3L692.7 641.3L692.7 647.6L684.3 646.5Z"/>
<path fill="#ff9a00" d="M694.8 656L707.5 649.7L720.1 647.6L728.5 656L734.8 647.6L747.9 643.4L747.9 697.1L678 697.1L682.2 681.3L690.6 672.8Z"/>
<path fill="#ffad00" d="M730.6 613.9L747.9 609.7L747.9 626.5L741.2 622.3L732.7 620.2Z"/>
<path fill="#ff9a00" d="M627.5 672.8L635.9 670.7L640.1 681.3L633.8 691.8L625.4 685.5ZM598 681.3L610.6 685.5L619.1 697.1L598 697.1Z"/>
<path fill="#fff800" d="M598 713.9L610.6 718.1L614.8 730.7L606.4 739.2L598 737.1ZM614.8 785.5L631.7 783.4L635.9 793.9L623.3 798.1Z"/>
<path fill="#0000b6" d="M724.3 190.7L730.6 188.6L732.7 194.9L728.5 203.4L720.1 207.6L711.7 205.5L715.9 201.3L722.2 199.2ZM703.3 247.6L724.3 247.6L724.3 264.4L720.1 274.9L722.2 285.5L711.7 285.5L707.5 274.9L703.3 264.4ZM728.5 245.5L734.8 245.5L734.8 251.8L728.5 251.8ZM726.4 279.2L747.9 277.1L747.9 297.1L724.3 297.1Z"/>
<path fill="#0000dd" d="M663.3 141.3L669.6 139.2L672.7 143.4L669.6 146.5L665.4 146.5ZM684.3 139.2L690.6 138.1L691.7 143.4L686.4 146.5Z"/>
<path fill="#04fffb" d="M451.8 538.4L457.9 538.4L457.9 544.5L451.8 544.5ZM459.4 591.5L465.4 591.5L465.4 597.6L459.4 597.6ZM432.9 606.6L438.9 606.6L438.9 612.7L432.9 612.7ZM482.1 618L488.2 618L488.2 624.1L482.1 624.1ZM417.7 587.7L423.8 587.7L423.8 593.8L417.7 593.8ZM470.8 568.8L476.8 568.8L476.8 574.8L470.8 574.8ZM410.1 549.8L416.2 549.8L416.2 555.9L410.1 555.9ZM436.7 568.8L442.7 568.8L442.7 574.8L436.7 574.8Z"/>
<path fill="#7aff85" d="M546.9 569.1L552.2 569.1L552.2 574.4L546.9 574.4ZM573.4 588.1L578.8 588.1L578.8 593.4L573.4 593.4ZM592.4 561.6L597.7 561.6L597.7 566.9L592.4 566.9ZM539.3 546.4L544.6 546.4L544.6 551.7L539.3 551.7ZM520.4 584.3L525.7 584.3L525.7 589.6L520.4 589.6ZM600 618.4L605.3 618.4L605.3 623.7L600 623.7ZM509 561.6L514.3 561.6L514.3 566.9L509 566.9ZM554.5 607L559.8 607L559.8 612.3L554.5 612.3Z"/>
<path fill="#ffad00" d="M509 652.5L514.3 652.5L514.3 657.8L509 657.8ZM565.9 637.3L571.2 637.3L571.2 642.6L565.9 642.6ZM607.5 644.9L612.9 644.9L612.9 650.2L607.5 650.2ZM675.8 618.4L681.1 618.4L681.1 623.7L675.8 623.7ZM709.9 607L715.2 607L715.2 612.3L709.9 612.3ZM721.2 588.1L726.5 588.1L726.5 593.4L721.2 593.4ZM660.6 652.5L665.9 652.5L665.9 657.8L660.6 657.8ZM683.3 637.3L688.6 637.3L688.6 642.6L683.3 642.6ZM728.8 622.2L734.1 622.2L734.1 627.5L728.8 627.5Z"/>
<path fill="#2bffd4" d="M490.5 592.2L495 592.2L495 596.8L490.5 596.8ZM501.8 615L506.4 615L506.4 619.5L501.8 619.5ZM528.4 618.8L532.9 618.8L532.9 623.3L528.4 623.3ZM607.9 592.2L612.5 592.2L612.5 596.8L607.9 596.8ZM585.2 539.2L589.7 539.2L589.7 543.7L585.2 543.7ZM630.7 505.1L635.2 505.1L635.2 509.6L630.7 509.6ZM691.3 539.2L695.8 539.2L695.8 543.7L691.3 543.7ZM721.6 543L726.2 543L726.2 547.5L721.6 547.5Z"/>
<path fill="#00c9ff" d="M317.5 533.9L332.2 531.8L340.6 538.1L336.4 548.6L323.8 550.7L315.4 542.3Z"/>
<path fill="#00f0ff" d="M399.6 601.3L416.4 597.1L429.1 605.5L424.8 618.1L408 622.3L395.4 613.9Z"/>
<path fill="#18ffe7" d="M429.1 538.1L448 536L449.1 565.5L437.5 567.6L431.2 554.9Z"/>
<path fill="#00a2ff" d="M374.3 521.3L395.4 522.3L399.6 529.7L378.5 530.7Z"/>
<path fill="#008eff" d="M408 517.1L433.3 519.2L437.5 527.6L412.2 527.6Z"/>
<path fill="#04fffb" d="M365.9 620.2L382.7 618.1L384.8 632.8L374.3 641.3L365.9 634.9Z"/>
<path fill="#3fffc0" d="M420.6 616L437.5 613.9L443.8 624.4L429.1 628.6Z"/>
</g>
<g filter="url(#dc)">
<path fill="#ffffff" d="M583.4 688.4L598.8 684L614.3 688.4L632 684L647.5 688.4L654.1 699.5L651.9 714.9L643 728.2L632 737L614.3 732.6L603.3 737L592.2 732.6L583.4 719.4L581.2 701.7ZM700.5 675.2L716 672.9L724.8 681.8L718.2 692.8L702.7 690.6ZM729.3 684L746.9 681.8L746.9 692.8L733.7 695ZM738.1 743.7L746.9 741.5L746.9 754.7L740.3 754.7ZM658.5 655.3L671.8 653.1L680.6 666.3L676.2 684L662.9 688.4L656.3 672.9ZM667.4 741.5L676.2 739.3L678.4 745.9L669.6 748.1ZM638.6 779L647.5 776.8L649.7 783.5L640.8 785.7Z"/>
<path fill="#ffe000" d="M596.6 703.9L609.9 699.5L614.3 710.5L605.5 719.4Z"/>
<path fill="#ffd100" d="M620.9 714.9L636.4 710.5L640.8 723.8L627.6 730.4Z"/>
<path fill="#ffb100" d="M632 692.8L643 690.6L645.3 699.5L636.4 703.9Z"/>
<path fill="#e7ff18" d="M592.2 723.8L601.1 719.4L605.5 728.2L596.6 732.6Z"/>
<path fill="#ffe800" d="M583.4 695L592.2 692.8L594.4 701.7L585.6 703.9Z"/>
<path fill="#ffa200" d="M662.9 661.9L671.8 659.7L674 672.9L665.2 677.4Z"/>
</g>
<path d="M98.0 96V855M198.0 96V855M298.0 96V855M398.0 96V855M498.0 96V855M598.0 96V855M698.0 96V855M48 785.1H748M48 647.3H748M48 509.4H748M48 371.6H748M48 233.7H748" stroke="#c4c4c4" stroke-opacity="0.85" stroke-width="1.5" stroke-dasharray="2.6 6.6" fill="none"/>
<path d="M220.6 502.3L231.2 508.6L237.5 517.1L243.8 529.7L241.7 542.3L233.3 554.9L229.1 567.6L225.9 576M193.3 630.7L186.9 639.2L182.7 647.6L174.3 658.1L165.9 670.7L161.7 683.4L157.5 697.1M248 588.6L237.5 601.3L231.2 609.7L224.8 618.1L216.4 622.3L210.1 628.6L203.8 630.7L199.6 643.4L195.4 649.7L193.3 660.2L186.9 670.7L180.6 681.3L174.3 697.1M248 594.9L239.6 605.5L233.3 613.9L226.9 622.3L218.5 626.5L212.2 632.8L205.9 637.1L202.7 647.6L197.5 653.9L195.4 664.4L190.1 672.8L184.8 683.4L178.5 697.1M248 613.9L239.6 626.5L235.4 639.2L233.3 647.6L224.8 662.3L216.4 674.9L210.1 687.6L205.9 697.1M155.8 695L157.5 711.8L159.2 728.7L157.5 745.5L155.8 762.4L152.4 765.7L154.1 779.2L149.1 782.6L155.8 789.3L150.7 796.1L152.4 809.5L157.5 812.9L155.8 826.4L149.1 834.8L142.3 843.2L135.6 855M172.6 695L165.9 705.1L167.6 721.9L162.5 745.5L159.2 762.4L157.5 779.2L157.5 796.1L159.2 812.9L152.4 829.7L142.3 846.6L132.2 855M202.9 695L199.6 705.1L186.1 715.2L184.4 728.7L184.4 743.8L177.7 748.9L179.4 762.4L181.1 767.4L177.7 789.3L172.6 796.1L165.9 812.9L159.2 826.4L152.4 839.8L147.4 855M124.6 754.8L128.8 754.8L133.9 762.4L134.2 767.4L130.5 765.7L125.5 759.8ZM121.3 790.2L123.8 789.3L125.5 791.8L123.8 794.4L121.3 793.5ZM147.4 781.7L150.7 780.9L152.4 783.4L150.7 785.9L147.7 785.1ZM374.3 296L370.1 308.6L365.9 321.3L363.8 333.9L368 346.5L376.4 359.2L384.8 365.5L393.3 367.6M395.4 296L393.3 312.8L391.2 329.7L393.3 346.5L399.6 359.2L408 371.8L416.4 384.4L424.8 397.1L431.2 409.7L435.4 426.5L437.5 439.2M403.8 300.2L408 317.1L403.8 333.9L405.9 350.7L414.3 367.6L422.7 384.4L431.2 401.3L437.5 413.9L443.8 426.5L448 430.7M374.3 312.8L378.5 310.7L381.1 314.9L377.5 317.5ZM378.5 331.8L384.8 329.7L387.4 334.9L382.7 338.1ZM432.2 314.9L435.4 313.9L436.8 318.1L433.3 319.6ZM256.4 489.7L264.8 481.3L273.3 481.3L281.7 472.8L290.1 464.4L298.5 462.3L306.9 451.8L313.3 443.4L321.7 441.3L332.2 440.2L340.6 443.4L349.1 441.3L357.5 439.2L365.9 443.4L372.2 456L378.5 462.3L391.2 462.3L399.6 464.4L408 462.3L416.4 464.4L429.1 466.5L437.5 462.3L448 458.1M321.7 497.1L332.2 489.7L338.5 481.3L342.7 497.1M349.1 489.7L357.5 485.5L365.9 487.6L374.3 483.4L382.7 481.3L386.9 489.7L382.7 497.1M422.7 491.8L431.2 489.7L437.5 493.9M354.3 443.4L358.5 443.4L358.5 452.8L354.3 452.8ZM370.1 456L374.3 447.6L378.5 456ZM426.9 359.2L431.2 354.9L437.5 357.1L441.7 352.8L445.9 357.1L443.8 365.5L439.6 369.7L441.7 376L437.5 378.1M448 241.3L460.6 243.4L469.1 239.2L479.6 234.9L490.1 226.5L500.6 220.2L511.2 213.9L521.7 209.7L532.2 205.5L542.7 201.3L549.1 199.2M542.7 199.2L549.1 194.9L557.5 192.8L565.9 194.9L566.9 199.2L559.6 201.3L549.1 202.3ZM551.2 190.7L557.5 177.1L564.8 177.1L566.9 190.7ZM525.9 218.1L531.2 213.9L534.3 218.1L532.2 223.4L526.9 224.4ZM542.7 221.3L545.9 220.2L546.9 225.5L543.8 226.5ZM546.9 211.8L550.7 210.7L551.2 215.6L547.8 216ZM574.3 189.7L578.1 188.6L578.5 194.5L575.2 194.9ZM569.1 205.9L572.6 205.5L573.3 209.3L569.7 209.7ZM511.2 230.7L509.1 243.4L502.7 256L494.3 268.6L490.1 281.3L496.4 285.5L506.9 283.4L517.5 285.5L525.9 281.3L532.2 285.5L540.6 283.4L553.3 281.3L557.5 270.7L553.3 262.3L544.8 258.1L536.4 249.7L532.2 241.3L534.3 234.9L528 230.7L519.6 232.8L511.2 230.7M523.8 277.1L530.1 271.8L538.5 270.7L542.7 277.1L538.5 284.4L530.1 285.5ZM561.7 222.3L565.9 230.7L563.8 243.4L568 256L574.3 264.4L578.5 274.9L584.8 285.5M578.5 216L582.7 209.7L591.2 201.3L599.6 190.7L608 182.3L616.4 173.9L622.7 167.6M584.8 239.2L586.9 251.8L591.2 264.4L595.4 274.9L603.8 281.3L614.3 285.5L622.7 289.7L631.2 293.9M448 256L456.4 251.8L464.8 243.4L473.3 241.3L481.7 239.2M452.2 239.2L456.4 238.1L457.5 243.4L453.3 244.4ZM460.6 270.7L463.8 269.7L464.4 273.9L461.1 274.5ZM475.4 287.6L481.7 291.8L479.6 297.1M448 188.6L454.3 186.5L460.6 189.7M448 426.5L456.4 420.2L464.8 409.7L473.3 401.3L477.5 390.7L481.7 384.4L490.1 380.2L498.5 373.9L506.9 369.7L517.5 363.4L528 359.2L538.5 358.1L553.3 357.1L565.9 358.1L574.3 354.9L578.5 351.8L582.7 357.1L591.2 359.2L599.6 365.5L608 373.9L612.2 384.4L612.2 392.8L603.8 399.2L599.6 405.5L595.4 409.7M475.4 380.2L483.8 378.1L494.3 373.9L502.7 367.6L511.2 365.5L519.6 363.4M536.4 384.4L540.6 380.2L544.8 378.1L542.7 386.5L538.5 392.8L540.6 399.2L538.5 405.5L540.6 413.9L536.4 420.2L530.1 422.3L528 426.5L521.7 430.7L515.4 432.8M469.1 458.1L481.7 470.7L490.1 474.9L502.7 470.7L511.2 464.4L523.8 462.3L536.4 458.1L549.1 451.8L559.6 449.7L565.9 443.4L574.3 434.9L582.7 426.5L591.2 418.1L595.4 409.7M475.4 481.3L490.1 485.5L502.7 481.3L515.4 477.1L528 472.8L540.6 464.4L553.3 458.1L563.8 453.9L570.1 464.4L565.9 472.8L553.3 481.3L549.1 497.1M572.2 331.8L582.7 329.7L595.4 331.8L603.8 338.1L612.2 342.3L620.6 346.5L626.9 344.4M574.3 333.9L584.8 338.1L595.4 342.3L603.8 350.7L612.2 357.1L620.6 361.3L629.1 357.1L637.5 352.8L648 348.6M648 371.8L637.5 382.3L629.1 390.7L620.6 397.1L614.3 405.5L610.1 416L603.8 422.3L595.4 432.8L586.9 443.4L578.5 453.9L574.3 464.4M572.2 420.2L574.3 416L579.6 417.1L580.6 422.3L576.4 424.8ZM593.3 405.5L595.4 401.3L599.6 403.4L599.6 408.6L595.4 410.1ZM559.6 432.8L562.7 430.7L564.8 433.9L561.7 436.6ZM477.5 346.5L481.7 345.5L484.8 350.7L481.7 353.9M448 333.9L456.4 331.8L464.8 336L469.1 329.7L475.4 327.6L481.7 323.4M450.1 306.5L453.3 305.5L453.9 312.8L450.5 313.9ZM479.6 311.8L484.8 310.7L485.9 313.9L480.6 314.9ZM248 590.7L254.3 580.2L260.6 565.5L266.9 552.8L273.3 542.3L275.4 536L279.6 531.8L290.1 523.4L298.5 517.1L306.9 512.8L315.4 510.7L323.8 508.6L332.2 506.5L340.6 505.5L349.1 504.4M248 613.9L258.5 601.3L269.1 588.6L281.7 580.2L294.3 571.8L302.7 567.6L309.1 565.5L311.2 557.1L317.5 548.6L323.8 540.2L332.2 536L340.6 531.8L353.3 529.7L365.9 527.6L378.5 527.6L391.2 525.5L403.8 527.6L416.4 527.6L429.1 528.6L437.5 529.7L448 527.6M275.4 536L281.7 542.3L283.8 548.6L277.5 557.1L269.1 563.4L262.7 569.7L256.4 580.2L250.1 588.6M298.5 506.5L302.7 504.4L304.8 507.6L301.7 510.7ZM321.7 500.2L328 496M656.9 121.3L652.7 129.7L650.6 138.1L650.6 144.4L648.5 148.6M699.1 201.3L707.5 205.5L715.9 207.6L724.3 213.9L732.7 216L732.7 207.6L741.2 201.3L747.9 194.9M696.9 243.4L707.5 239.2L715.9 234.9L724.3 232.8L728.5 243.4L732.7 256L734.8 268.6L732.7 277.1M690.6 256L699.1 268.6L703.3 281.3L707.5 293.9M654.8 272.8L663.3 268.6L669.6 274.9L665.4 281.3L658 281.3ZM728.5 190.7L731.7 189.7L732.7 194.9L729.6 196ZM598 281.3L606.4 285.5L614.8 289.7L619.1 297.1M598 331.8L606.4 338.1L614.8 350.7L621.2 361.3L629.6 357.1L640.1 350.7L648.5 344.4M648.5 371.8L640.1 380.2L631.7 386.5L627.5 397.1L619.1 403.4L612.7 413.9L606.4 422.3M743.3 302.3L746.4 306.5L745.4 311.8L747.9 312.8M627.5 552.8L629.6 547.6L631.7 549.7L631.3 554.9L628.5 556ZM695.9 589.7L699.1 588.2L702.2 589.7L701.6 592.4L696.9 592.8ZM735.9 609.7L738.6 608.6L741.2 612.8L739.5 615.6L736.5 612.8ZM524.8 512.8L529.1 509.7L532.6 513.9L531.2 518.7L526.3 518.1ZM628 549.7L631.2 547.6L632.8 551.8L630.7 555.4L628 553.9ZM448 525.5L456.4 519.2L464.8 512.8L473.3 508.6L481.7 506.5L490.1 504.4L502.7 500.2L511.2 498.1L519.6 496M378.5 297.1L382.7 285.5L386.9 277.1L395.4 268.6L403.8 262.3L412.2 258.1L422.7 258.1L431.2 251.8L437.5 247.6L448 243.4M395.4 297.1L397.5 285.5L403.8 277.1L412.2 270.7L422.7 266.5L433.3 262.3L443.8 256L448 253.9M416.4 287.6L421.7 286.5L422.7 292.8L417.5 293.9ZM433.3 291.8L435.4 290.7L436.4 294.9L434.3 296ZM448 308.6L454.3 314.9L460.6 312.8L466.9 319.2L473.3 317.1L479.6 323.4L477.5 331.8L471.2 336L464.8 333.9L458.5 338.1L452.2 336L448 338.1M496.4 308.6L502.7 304.4L511.2 306.5L519.6 302.3L528 304.4L536.4 300.2L544.8 302.3M460.6 304.4L465.9 303.4L468 307.6L462.7 309.1ZM715.9 213.9L724.3 222.3L732.7 230.7L736.9 243.4L745.4 251.8L747.9 264.4M747.9 213.9L743.3 222.3L745.4 232.8L747.9 243.4M216.4 496L224.8 485.5L233.3 481.3L241.7 479.2L249.1 477.1" stroke="#000" stroke-opacity="0.8" stroke-width="0.9" fill="none" stroke-linejoin="round"/>
<text class="c" transform="translate(215 605) rotate(-62)">50 m</text>
<text class="c" transform="translate(398 513) rotate(0)">200 m</text>
<text class="c" transform="translate(494 411) rotate(-52)">50 m</text>
<text class="c" transform="translate(564 385) rotate(10)">100 m</text>
<text class="c" transform="translate(624 312) rotate(-17)">100 m</text>
<text class="c" transform="translate(700 364) rotate(-17)">2000 m</text>
</g>
<rect x="47.7" y="95.0" width="700.3" height="759.5" fill="none" stroke="#000" stroke-width="2"/>
<path d="M98.0 95.0V82.0M98.0 854.5V867.5M198.0 95.0V82.0M198.0 854.5V867.5M298.0 95.0V82.0M298.0 854.5V867.5M398.0 95.0V82.0M398.0 854.5V867.5M498.0 95.0V82.0M498.0 854.5V867.5M598.0 95.0V82.0M598.0 854.5V867.5M698.0 95.0V82.0M698.0 854.5V867.5M47.7 785.1H34.7M748.0 785.1H761.0M47.7 647.3H34.7M748.0 647.3H761.0M47.7 509.4H34.7M748.0 509.4H761.0M47.7 371.6H34.7M748.0 371.6H761.0M47.7 233.7H34.7M748.0 233.7H761.0M47.7 95.8H34.7M748.0 95.8H761.0" stroke="#000" stroke-width="2" fill="none"/>
<text class="l" x="98.0" y="897.8" text-anchor="middle">−76</text>
<text class="l" x="198.0" y="897.8" text-anchor="middle">−74</text>
<text class="l" x="298.0" y="897.8" text-anchor="middle">−72</text>
<text class="l" x="398.0" y="897.8" text-anchor="middle">−70</text>
<text class="l" x="498.0" y="897.8" text-anchor="middle">−68</text>
<text class="l" x="598.0" y="897.8" text-anchor="middle">−66</text>
<text class="l" x="698.0" y="897.8" text-anchor="middle">−64</text>
<text class="l" transform="translate(18.3 785.1) rotate(-90)" text-anchor="middle">36</text>
<text class="l" transform="translate(18.3 647.3) rotate(-90)" text-anchor="middle">38</text>
<text class="l" transform="translate(18.3 509.4) rotate(-90)" text-anchor="middle">40</text>
<text class="l" transform="translate(18.3 371.6) rotate(-90)" text-anchor="middle">42</text>
<text class="l" transform="translate(18.3 233.7) rotate(-90)" text-anchor="middle">44</text>
<text class="l" transform="translate(18.3 95.8) rotate(-90)" text-anchor="middle">46</text>
<text class="t" x="398.2" y="42.6">Eight Day Rolling Average</text>
<text class="t" x="397.6" y="66.2">DECLOUDED NOAA−18 Sea Surface Temperature January 22, 2007 08:23 GMT</text>
<g shape-rendering="crispEdges">
<rect x="825.8" y="132.70" width="35.8" height="11.09" fill="#870000"/>
<rect x="825.8" y="143.39" width="35.8" height="11.09" fill="#970000"/>
<rect x="825.8" y="154.07" width="35.8" height="11.09" fill="#a70000"/>
<rect x="825.8" y="164.76" width="35.8" height="11.09" fill="#b70000"/>
<rect x="825.8" y="175.45" width="35.8" height="11.09" fill="#c70000"/>
<rect x="825.8" y="186.14" width="35.8" height="11.09" fill="#d70000"/>
<rect x="825.8" y="196.82" width="35.8" height="11.09" fill="#e70000"/>
<rect x="825.8" y="207.51" width="35.8" height="11.09" fill="#f70000"/>
<rect x="825.8" y="218.20" width="35.8" height="11.09" fill="#ff0800"/>
<rect x="825.8" y="228.89" width="35.8" height="11.09" fill="#ff1800"/>
<rect x="825.8" y="239.57" width="35.8" height="11.09" fill="#ff2800"/>
<rect x="825.8" y="250.26" width="35.8" height="11.09" fill="#ff3800"/>
<rect x="825.8" y="260.95" width="35.8" height="11.09" fill="#ff4800"/>
<rect x="825.8" y="271.64" width="35.8" height="11.09" fill="#ff5800"/>
<rect x="825.8" y="282.32" width="35.8" height="11.09" fill="#ff6800"/>
<rect x="825.8" y="293.01" width="35.8" height="11.09" fill="#ff7800"/>
<rect x="825.8" y="303.70" width="35.8" height="11.09" fill="#ff8700"/>
<rect x="825.8" y="314.39" width="35.8" height="11.09" fill="#ff9700"/>
<rect x="825.8" y="325.07" width="35.8" height="11.09" fill="#ffa700"/>
<rect x="825.8" y="335.76" width="35.8" height="11.09" fill="#ffb700"/>
<rect x="825.8" y="346.45" width="35.8" height="11.09" fill="#ffc700"/>
<rect x="825.8" y="357.14" width="35.8" height="11.09" fill="#ffd700"/>
<rect x="825.8" y="367.82" width="35.8" height="11.09" fill="#ffe700"/>
<rect x="825.8" y="378.51" width="35.8" height="11.09" fill="#fff700"/>
<rect x="825.8" y="389.20" width="35.8" height="11.09" fill="#f7ff08"/>
<rect x="825.8" y="399.89" width="35.8" height="11.09" fill="#e7ff18"/>
<rect x="825.8" y="410.57" width="35.8" height="11.09" fill="#d7ff28"/>
<rect x="825.8" y="421.26" width="35.8" height="11.09" fill="#c7ff38"/>
<rect x="825.8" y="431.95" width="35.8" height="11.09" fill="#b7ff48"/>
<rect x="825.8" y="442.64" width="35.8" height="11.09" fill="#a7ff58"/>
<rect x="825.8" y="453.32" width="35.8" height="11.09" fill="#97ff68"/>
<rect x="825.8" y="464.01" width="35.8" height="11.09" fill="#87ff78"/>
<rect x="825.8" y="474.70" width="35.8" height="11.09" fill="#78ff87"/>
<rect x="825.8" y="485.39" width="35.8" height="11.09" fill="#68ff97"/>
<rect x="825.8" y="496.07" width="35.8" height="11.09" fill="#58ffa7"/>
<rect x="825.8" y="506.76" width="35.8" height="11.09" fill="#48ffb7"/>
<rect x="825.8" y="517.45" width="35.8" height="11.09" fill="#38ffc7"/>
<rect x="825.8" y="528.14" width="35.8" height="11.09" fill="#28ffd7"/>
<rect x="825.8" y="538.83" width="35.8" height="11.09" fill="#18ffe7"/>
<rect x="825.8" y="549.51" width="35.8" height="11.09" fill="#08fff7"/>
<rect x="825.8" y="560.20" width="35.8" height="11.09" fill="#00f7ff"/>
<rect x="825.8" y="570.89" width="35.8" height="11.09" fill="#00e7ff"/>
<rect x="825.8" y="581.58" width="35.8" height="11.09" fill="#00d7ff"/>
<rect x="825.8" y="592.26" width="35.8" height="11.09" fill="#00c7ff"/>
<rect x="825.8" y="602.95" width="35.8" height="11.09" fill="#00b7ff"/>
<rect x="825.8" y="613.64" width="35.8" height="11.09" fill="#00a7ff"/>
<rect x="825.8" y="624.33" width="35.8" height="11.09" fill="#0097ff"/>
<rect x="825.8" y="635.01" width="35.8" height="11.09" fill="#0087ff"/>
<rect x="825.8" y="645.70" width="35.8" height="11.09" fill="#0078ff"/>
<rect x="825.8" y="656.39" width="35.8" height="11.09" fill="#0068ff"/>
<rect x="825.8" y="667.08" width="35.8" height="11.09" fill="#0058ff"/>
<rect x="825.8" y="677.76" width="35.8" height="11.09" fill="#0048ff"/>
<rect x="825.8" y="688.45" width="35.8" height="11.09" fill="#0038ff"/>
<rect x="825.8" y="699.14" width="35.8" height="11.09" fill="#0028ff"/>
<rect x="825.8" y="709.83" width="35.8" height="11.09" fill="#0018ff"/>
<rect x="825.8" y="720.51" width="35.8" height="11.09" fill="#0008ff"/>
<rect x="825.8" y="731.20" width="35.8" height="11.09" fill="#0000f7"/>
<rect x="825.8" y="741.89" width="35.8" height="11.09" fill="#0000e7"/>
<rect x="825.8" y="752.58" width="35.8" height="11.09" fill="#0000d7"/>
<rect x="825.8" y="763.26" width="35.8" height="11.09" fill="#0000c7"/>
<rect x="825.8" y="773.95" width="35.8" height="11.09" fill="#0000b7"/>
<rect x="825.8" y="784.64" width="35.8" height="11.09" fill="#0000a7"/>
<rect x="825.8" y="795.33" width="35.8" height="11.09" fill="#000097"/>
<rect x="825.8" y="806.01" width="35.8" height="11.09" fill="#000087"/>
</g>
<rect x="825.8" y="132.7" width="35.8" height="684.0" fill="none" stroke="#000" stroke-width="1"/>
<text class="l" x="768.5" y="150.7">82F</text>
<text class="l" x="768.5" y="252.6">75F</text>
<text class="l" x="768.5" y="339.6">69F</text>
<text class="l" x="768.5" y="413.0">64F</text>
<text class="l" x="768.5" y="484.8">59F</text>
<text class="l" x="768.5" y="601.9">51F</text>
<text class="l" x="768.5" y="675.3">46F</text>
<text class="l" x="768.5" y="747.4">41F</text>
<text class="l" x="768.5" y="820.7">36F</text>
<text class="l" x="884.8" y="144.9">28C</text>
<text class="l" x="884.8" y="249.9">24C</text>
<text class="l" x="884.8" y="328.8">21C</text>
<text class="l" x="884.8" y="407.0">18C</text>
<text class="l" x="884.8" y="484.8">15C</text>
<text class="l" x="884.8" y="590.0">11C</text>
<text class="l" x="884.8" y="669.4">8C</text>
<text class="l" x="884.8" y="747.4">5C</text>
<path d="M825.8 143.8H813.6M825.8 245.7H813.6M825.8 332.7H813.6M825.8 406.1H813.6M825.8 477.9H813.6M825.8 595.0H813.6M825.8 668.4H813.6M825.8 740.5H813.6M825.8 813.8H813.6M861.6 138.0H873.8M861.6 243.0H873.8M861.6 321.9H873.8M861.6 400.1H873.8M861.6 477.9H873.8M861.6 583.1H873.8M861.6 662.5H873.8M861.6 740.5H873.8" stroke="#000" stroke-width="1" fill="none"/>
</svg></body></html>
